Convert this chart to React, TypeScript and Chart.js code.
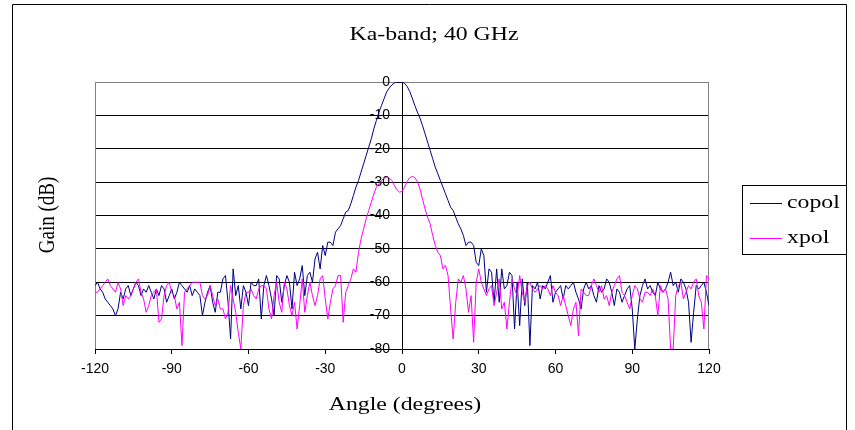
import { useEffect, useRef } from 'react';
import { Chart, registerables } from 'chart.js';

Chart.register(...registerables);

// ---- data -----------------------------------------------------------
const ANGLES = [
  -120, -119, -118, -117, -116, -115, -114, -113, -112, -111,
  -110, -109, -108, -107, -106, -105, -104, -103, -102, -101,
  -100, -99, -98, -97, -96, -95, -94, -93, -92, -91,
  -90, -89, -88, -87, -86, -85, -84, -83, -82, -81,
  -80, -79, -78, -77, -76, -75, -74, -73, -72, -71,
  -70, -69, -68, -67, -66, -65, -64, -63, -62, -61,
  -60, -59, -58, -57, -56, -55, -54, -53, -52, -51,
  -50, -49, -48, -47, -46, -45, -44, -43, -42, -41,
  -40, -39, -38, -37, -36, -35, -34, -33, -32, -31,
  -30, -29, -28, -27, -26, -25, -24, -23, -22, -21,
  -20, -19, -18, -17, -16, -15, -14, -13, -12, -11,
  -10, -9, -8, -7, -6, -5, -4, -3, -2, -1,
  0, 1, 2, 3, 4, 5, 6, 7, 8, 9,
  10, 11, 12, 13, 14, 15, 16, 17, 18, 19,
  20, 21, 22, 23, 24, 25, 26, 27, 28, 29,
  30, 31, 32, 33, 34, 35, 36, 37, 38, 39,
  40, 41, 42, 43, 44, 45, 46, 47, 48, 49,
  50, 51, 52, 53, 54, 55, 56, 57, 58, 59,
  60, 61, 62, 63, 64, 65, 66, 67, 68, 69,
  70, 71, 72, 73, 74, 75, 76, 77, 78, 79,
  80, 81, 82, 83, 84, 85, 86, 87, 88, 89,
  90, 91, 92, 93, 94, 95, 96, 97, 98, 99,
  100, 101, 102, 103, 104, 105, 106, 107, 108, 109,
  110, 111, 112, 113, 114, 115, 116, 117, 118, 119,
  120,
];

const COPOL = [
  -61, -60, -62, -63, -65, -66, -67, -68, -70, -68,
  -63, -65, -62, -61, -64, -62, -60, -61, -64, -62,
  -63, -61, -63, -65, -62, -64, -61, -62, -66, -64,
  -62, -65, -63, -60, -61, -62, -63, -61, -64, -62,
  -63, -64, -70, -66, -63, -61, -66, -69, -63, -63,
  -59, -58, -66, -77, -56, -64, -61, -68, -61, -63,
  -67, -60, -61, -61, -59, -71, -61, -58, -61, -65,
  -70, -58, -59, -66, -61, -58, -60, -68, -57, -61,
  -59, -55, -64, -58, -57, -60, -53, -51, -56, -49,
  -52, -48, -48, -49, -45, -44, -43, -41, -39, -38.5,
  -36.5, -34, -31.5, -29.5, -27, -24.5, -22, -19.5, -17, -14,
  -11.5, -9, -7, -5, -3, -1.8, -0.9, -0.3, 0, 0,
  0, -0.4, -1.3, -2.8, -4.8, -7, -9, -10.8, -13, -15.5,
  -18, -20.5, -23, -25.5, -27.5, -29.5, -31.5, -33.5, -35.5, -37.5,
  -38.5, -40.5, -42.5, -44, -46, -49, -48, -48, -49, -54,
  -55, -50, -52, -63, -56, -57, -66, -56, -66, -56,
  -62, -61, -57, -58, -74, -60, -73, -59, -67, -60,
  -79, -61, -62, -60, -65, -61, -62, -60, -58, -66,
  -63, -62, -61, -65, -61, -62, -61, -60, -63, -65,
  -68, -62, -60, -62, -61, -64, -66, -61, -63, -62,
  -59, -60, -63, -67, -62, -63, -66, -64, -62, -61,
  -68, -80, -71, -64, -61, -59, -62, -61, -63, -64,
  -60, -62, -63, -62, -60, -57, -61, -60, -63, -59,
  -60, -62, -66, -78, -69, -61, -62, -61, -60, -63,
  -67,
];

const XPOL = [
  -63, -63, -62, -61, -60, -59, -61, -62, -63, -60,
  -62, -67, -64, -65, -64, -62, -60, -59, -63, -65,
  -69, -67, -64, -63, -62, -72, -71, -64, -61, -60,
  -63, -64, -68, -66, -79, -63, -62, -61, -60, -60,
  -60, -60, -64, -65, -64, -61, -64, -67, -65, -68,
  -68, -71, -69, -61, -65, -69, -75, -80, -67, -63,
  -63, -62, -64, -65, -62, -61, -61, -62, -68, -71,
  -64, -60, -66, -69, -60, -62, -67, -70, -66, -74,
  -67, -59, -69, -64, -60, -64, -67, -64, -59, -58,
  -65, -71, -66, -62, -61, -58, -58, -72, -63, -61,
  -59, -56, -57, -51, -47, -44, -41, -38.5, -36, -33.5,
  -31.5, -30.5, -29.5, -28.8, -28.5, -28.7, -29.5, -31, -32.3, -33,
  -32.8, -31.5, -29.8, -28.7, -28.3, -28.6, -29.8, -32, -35, -38,
  -40.5, -42.5, -46, -49, -51, -52, -56, -55, -58, -68,
  -77, -66, -59, -60, -58, -62, -69, -64, -78, -60,
  -56, -60, -62, -64, -62, -61, -67, -63, -59, -68,
  -66, -74, -66, -59, -62, -64, -58, -63, -66, -61,
  -60, -62, -63, -62, -61, -62, -61, -62, -64, -61,
  -63, -64, -67, -64, -67, -70, -73, -68, -66, -76,
  -62, -63, -64, -64, -61, -59, -61, -63, -61, -65,
  -64, -67, -63, -61, -59, -58, -63, -64, -66, -68,
  -64, -61, -62, -65, -66, -63, -63, -64, -62, -64,
  -70, -61, -63, -62, -65, -80, -80, -64, -61, -60,
  -65, -63, -61, -62, -60, -59, -64, -66, -74, -58,
  -59,
];

const X_TICKS = [-120, -90, -60, -30, 0, 30, 60, 90, 120];
const Y_TICKS = [0, -10, -20, -30, -40, -50, -60, -70, -80];
const SERIES_NAMES = ['copol', 'xpol'];
const SERIES_COLORS = ['#000080', '#FF00FF'];
const TITLE = 'Ka-band; 40 GHz';
const X_TITLE = 'Angle (degrees)';
const Y_TITLE = 'Gain (dB)';

// ---- styling ---------------------------------------------------------
const SERIF = "'Liberation Serif', 'Times New Roman', serif";
const SANS = "'Liberation Sans', Arial, sans-serif";
const TEXT_STRETCH = 1.25;
const Y_LABEL_SHIFT = -12;

function stretchedText(
  ctx: CanvasRenderingContext2D,
  text: string,
  x: number,
  y: number,
  font: string,
  align: CanvasTextAlign,
  rotate = 0,
) {
  ctx.save();
  ctx.translate(x, y);
  if (rotate) {
    ctx.rotate(rotate);
    ctx.scale(1, TEXT_STRETCH);
  } else {
    ctx.scale(TEXT_STRETCH, 1);
  }
  ctx.font = font;
  ctx.fillStyle = '#000';
  ctx.textAlign = align;
  ctx.textBaseline = 'middle';
  ctx.fillText(text, 0, 0);
  ctx.restore();
}

// keeps the y tick labels a little to the left of the centred axis
const yLabelOffsetPlugin = {
  id: 'yLabelOffset',
  afterUpdate(chart: any) {
    const s = chart.scales && chart.scales.y;
    if (s && !s.__labelShifted) {
      const orig = s.drawLabels;
      s.drawLabels = function (area: any) {
        const ctx = this.ctx as CanvasRenderingContext2D;
        ctx.save();
        ctx.translate(Y_LABEL_SHIFT, 0);
        orig.call(this, area);
        ctx.restore();
      };
      s.__labelShifted = true;
    }
  },
};

const decorPlugin = {
  id: 'decor',
  beforeDraw(chart: any) {
    const ctx = chart.ctx as CanvasRenderingContext2D;
    ctx.save();
    ctx.fillStyle = '#fff';
    ctx.fillRect(0, 0, chart.width, chart.height);
    // outer chart border
    ctx.strokeStyle = '#000';
    ctx.lineWidth = 1;
    ctx.beginPath();
    ctx.moveTo(12.5, chart.height + 2);
    ctx.lineTo(12.5, 4.5);
    ctx.lineTo(846.5, 4.5);
    ctx.lineTo(846.5, chart.height + 2);
    ctx.stroke();
    ctx.restore();
  },
  beforeDatasetsDraw(chart: any) {
    const ctx = chart.ctx as CanvasRenderingContext2D;
    const a = chart.chartArea;
    ctx.save();
    ctx.strokeStyle = '#808080';
    ctx.lineWidth = 1;
    ctx.beginPath();
    ctx.moveTo(Math.round(a.left) + 0.5, a.top);
    ctx.lineTo(Math.round(a.left) + 0.5, a.bottom);
    ctx.moveTo(Math.round(a.right) - 0.5, a.top);
    ctx.lineTo(Math.round(a.right) - 0.5, a.bottom);
    ctx.stroke();
    ctx.restore();
  },
  afterDraw(chart: any) {
    const ctx = chart.ctx as CanvasRenderingContext2D;
    const font = `19px ${SERIF}`;
    stretchedText(ctx, TITLE, 434, 35, font, 'center');
    stretchedText(ctx, X_TITLE, 405, 405, font, 'center');
    stretchedText(ctx, Y_TITLE, 48, 215, font, 'center', -Math.PI / 2);

    // legend box
    const lx = 742;
    const ly = 185;
    const lw = 104;
    const lh = 69;
    ctx.save();
    ctx.fillStyle = '#fff';
    ctx.fillRect(lx, ly, lw, lh);
    ctx.strokeStyle = '#000';
    ctx.lineWidth = 1;
    ctx.strokeRect(lx + 0.5, ly + 0.5, lw, lh);
    const rows = [203, 238];
    chart.data.datasets.forEach((ds: any, i: number) => {
      const y = rows[i];
      ctx.strokeStyle = ds.borderColor;
      ctx.beginPath();
      ctx.moveTo(750, y + 0.5);
      ctx.lineTo(782, y + 0.5);
      ctx.stroke();
      stretchedText(ctx, ds.label, 787, y, font, 'left');
    });
    ctx.restore();
  },
};

export default function App() {
  const canvasRef = useRef<HTMLCanvasElement | null>(null);

  useEffect(() => {
    const canvas = canvasRef.current;
    if (!canvas) return;
    const series = [COPOL, XPOL];
    const chart = new Chart(canvas, {
      type: 'line',
      data: {
        datasets: series.map((vals, i) => ({
          label: SERIES_NAMES[i],
          data: ANGLES.map((a, j) => ({ x: a, y: vals[j] })),
          borderColor: SERIES_COLORS[i],
          backgroundColor: SERIES_COLORS[i],
          borderWidth: 1,
          pointRadius: 0,
          pointHoverRadius: 0,
          tension: 0,
          fill: false,
          order: i === 0 ? 1 : 0,
        })),
      },
      options: {
        responsive: false,
        animation: false,
        devicePixelRatio: 1,
        events: [],
        layout: { padding: { left: 95, top: 82, right: 146, bottom: 0 } },
        plugins: {
          legend: { display: false },
          title: { display: false },
          tooltip: { enabled: false },
        },
        scales: {
          x: {
            type: 'linear',
            position: 'bottom',
            min: -120,
            max: 120,
            afterBuildTicks: (s: any) => {
              s.ticks = X_TICKS.map((v) => ({ value: v }));
            },
            afterFit: (s: any) => {
              s.height = 81;
            },
            grid: {
              drawOnChartArea: false,
              drawTicks: true,
              tickLength: 5,
              color: '#000',
              lineWidth: 1,
            },
            border: { display: true, color: '#000', width: 1 },
            ticks: {
              color: '#000',
              font: { family: SANS, size: 14 },
              padding: 7,
              maxRotation: 0,
              autoSkip: false,
            },
          },
          y: {
            type: 'linear',
            position: { x: 0 },
            min: -80,
            max: 0,
            afterBuildTicks: (s: any) => {
              s.ticks = Y_TICKS.map((v) => ({ value: v }));
            },
            grid: {
              drawOnChartArea: true,
              drawTicks: true,
              tickLength: 5,
              color: (c: any) => (c.tick && c.tick.value === 0 ? '#808080' : '#000'),
              tickColor: '#000',
              lineWidth: 1,
            },
            border: { display: true, color: '#000', width: 1 },
            ticks: {
              color: '#000',
              font: { family: SANS, size: 14 },
              padding: 7,
            },
          },
        },
      },
      plugins: [yLabelOffsetPlugin, decorPlugin],
    } as any);
    return () => chart.destroy();
  }, []);

  return (
    <div style={{ position: 'absolute', left: 0, top: 0, width: 855, height: 430, background: '#fff' }}>
      <canvas ref={canvasRef} width={855} height={430} style={{ display: 'block', width: 855, height: 430 }} />
    </div>
  );
}
